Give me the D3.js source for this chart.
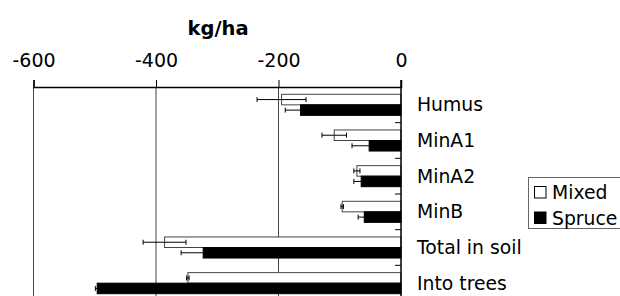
<!DOCTYPE html>
<html>
<head>
<meta charset="utf-8">
<script src="https://cdn.jsdelivr.net/npm/d3@7"></script>
<style>
  body { margin: 0; background: #fff; }
  text { font-family: "DejaVu Sans", Verdana, sans-serif; }
</style>
</head>
<body>
<div id="grafica"></div>
<script>
// data (kg/ha)
var categories = ["Humus", "MinA1", "MinA2", "MinB", "Total in soil", "Into trees"];
var series = ["Mixed", "Spruce"];
var mixedValues = [-195, -109, -72, -96, -386, -348];
var mixedErrors = [40, 20, 5, 2, 35, 2];
var spruceValues = [-164, -52, -65, -60, -323, -496];
var spruceErrors = [25, 28, 12, 10, 36, 3];
var tickValues = [-600, -400, -200, 0];

var width = 620, height = 296;

var svg = d3.select("#grafica")
  .append("svg")
  .attr("width", width)
  .attr("height", height);

var rows = categories.map(function(c, i) {
  return { cat: c, values: [
    { s: "Mixed", v: mixedValues[i], e: mixedErrors[i] },
    { s: "Spruce", v: spruceValues[i], e: spruceErrors[i] }
  ]};
});

// scales
var x = d3.scaleLinear()
  .domain([-600, 0])
  .range([33.5, 401]);

var y = d3.scaleBand()
  .domain(categories)
  .range([87, 301]);

var ySub = d3.scaleBand()
  .domain(series)
  .range([7.3, y.bandwidth() - 7.3]);

var fills = { Mixed: "#fff", Spruce: "#000" };

// gridlines
svg.append("g")
  .selectAll("line")
  .data(tickValues.filter(function(d) { return d !== 0; }))
  .join("line")
  .attr("x1", function(d) { return x(d); })
  .attr("x2", function(d) { return x(d); })
  .attr("y1", 87)
  .attr("y2", 301)
  .attr("stroke", "#444")
  .attr("stroke-width", 1);

// top axis
var xAxis = svg.append("g")
  .attr("transform", "translate(0,87)")
  .call(d3.axisTop(x).tickValues(tickValues).tickSize(7).tickPadding(13).tickFormat(d3.format("d")));
xAxis.select(".domain").attr("stroke", "#000").attr("stroke-width", 1.5);
xAxis.selectAll(".tick line").attr("stroke", "#000");
xAxis.selectAll(".tick text")
  .attr("font-family", "DejaVu Sans, Verdana, sans-serif")
  .attr("font-size", "19px")
  .attr("fill", "#000")
  .text(function(d) { return d3.format("d")(d).replace("\u2212", "-"); });

// axis title
svg.append("text")
  .attr("x", 218)
  .attr("y", 35)
  .style("text-anchor", "middle")
  .style("font-weight", "bold")
  .style("font-size", "19.5px")
  .text("kg/ha");

// bars
var groups = svg.append("g")
  .selectAll("g")
  .data(rows)
  .join("g")
  .attr("transform", function(d) { return "translate(0," + y(d.cat) + ")"; });

groups.selectAll("rect")
  .data(function(d) { return d.values; })
  .join("rect")
  .attr("x", function(d) { return x(d.v); })
  .attr("y", function(d) { return ySub(d.s); })
  .attr("width", function(d) { return x(0) - x(d.v); })
  .attr("height", ySub.bandwidth())
  .attr("fill", function(d) { return fills[d.s]; })
  .attr("stroke", function(d) { return d.s === "Mixed" ? "#444" : "#000"; })
  .attr("stroke-width", 1);

// error bars
var err = groups.selectAll("g.err")
  .data(function(d) { return d.values; })
  .join("g")
  .attr("class", "err")
  .attr("transform", function(d) { return "translate(0," + (ySub(d.s) + ySub.bandwidth() / 2) + ")"; });

err.append("line")
  .attr("x1", function(d) { return x(d.v - d.e); })
  .attr("x2", function(d) { return x(d.v + d.e); })
  .attr("stroke", "#000");
err.selectAll("line.cap")
  .data(function(d) { return [d.v - d.e, d.v + d.e]; })
  .join("line")
  .attr("class", "cap")
  .attr("x1", function(d) { return x(d); })
  .attr("x2", function(d) { return x(d); })
  .attr("y1", -2.5)
  .attr("y2", 2.5)
  .attr("stroke", "#000");

// zero axis with category ticks
svg.append("line")
  .attr("x1", x(0)).attr("x2", x(0))
  .attr("y1", 80).attr("y2", 301)
  .attr("stroke", "#000")
  .attr("stroke-width", 1.5);
svg.append("g")
  .selectAll("line")
  .data(categories.slice(1))
  .join("line")
  .attr("x1", x(0) - 6)
  .attr("x2", x(0))
  .attr("y1", function(d) { return y(d); })
  .attr("y2", function(d) { return y(d); })
  .attr("stroke", "#000");

// category labels
svg.append("g")
  .selectAll("text")
  .data(categories)
  .join("text")
  .attr("x", 417)
  .attr("y", function(d) { return y(d) + y.bandwidth() / 2; })
  .attr("dy", "0.35em")
  .style("font-size", "18.8px")
  .text(function(d) { return d; });

// legend
var legend = svg.append("g");
legend.append("rect")
  .attr("x", 528.5).attr("y", 177.5)
  .attr("width", 100).attr("height", 51)
  .attr("fill", "#fff")
  .attr("stroke", "#666");
series.forEach(function(s, i) {
  legend.append("rect")
    .attr("x", 534.5).attr("y", 186.5 + i * 25.5)
    .attr("width", 11.5).attr("height", 11.5)
    .attr("fill", fills[s])
    .attr("stroke", "#000");
  legend.append("text")
    .attr("x", 552)
    .attr("y", 199 + i * 25.5)
    .style("font-size", "18.8px")
    .text(s);
});
</script>
</body>
</html>
